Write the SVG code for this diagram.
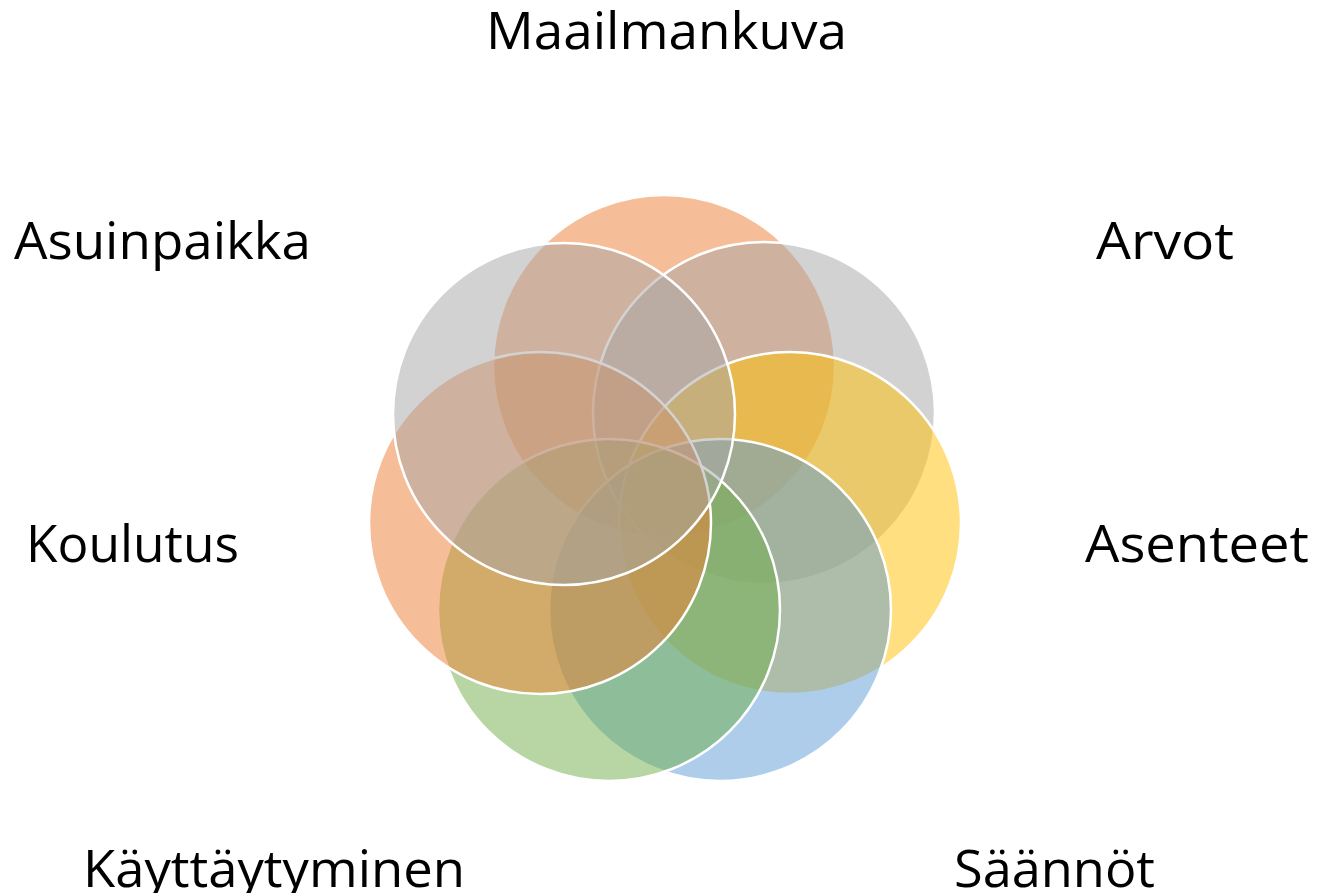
<svg xmlns="http://www.w3.org/2000/svg" width="1332" height="893" viewBox="0 0 1332 893">
<style>
.c{fill-opacity:0.5;stroke:#FFFFFF;stroke-width:2.5}
.t{font-family:"Open Sans","Liberation Sans",sans-serif;font-size:52px;fill:#000000;text-anchor:middle}
</style>
<rect width="1332" height="893" fill="#FFFFFF"/>
<g id="circles">
<g id="c1"><circle class="c" cx="664" cy="366" r="171" fill="#ED7D31"/></g>
<g id="c2"><circle class="c" cx="764" cy="413" r="171" fill="#A5A5A5"/></g>
<g id="c3"><circle class="c" cx="790" cy="523" r="171" fill="#FFC000"/></g>
<g id="c4"><circle class="c" cx="720" cy="610" r="171" fill="#5B9BD5"/></g>
<g id="c5"><circle class="c" cx="609" cy="610" r="171" fill="#70AD47"/></g>
<g id="c6"><circle class="c" cx="540" cy="523" r="171" fill="#ED7D31"/></g>
<g id="c7"><circle class="c" cx="564" cy="414" r="171" fill="#A5A5A5"/></g>
</g>
<g id="labels">
<g id="l-maailmankuva"><text class="t" x="666.5" y="49" textLength="361" lengthAdjust="spacingAndGlyphs">Maailmankuva</text></g>
<g id="l-asuinpaikka"><text class="t" x="162.5" y="259" textLength="297" lengthAdjust="spacingAndGlyphs">Asuinpaikka</text></g>
<g id="l-arvot"><text class="t" x="1165" y="259" textLength="138" lengthAdjust="spacingAndGlyphs">Arvot</text></g>
<g id="l-koulutus"><text class="t" x="132.5" y="562" textLength="213" lengthAdjust="spacingAndGlyphs">Koulutus</text></g>
<g id="l-asenteet"><text class="t" x="1197" y="562" textLength="224" lengthAdjust="spacingAndGlyphs">Asenteet</text></g>
<g id="l-kayttaytyminen"><text class="t" x="274" y="887" textLength="382" lengthAdjust="spacingAndGlyphs">Käyttäytyminen</text></g>
<g id="l-saannot"><text class="t" x="1054.5" y="887" textLength="201" lengthAdjust="spacingAndGlyphs">Säännöt</text></g>
</g>
</svg>
